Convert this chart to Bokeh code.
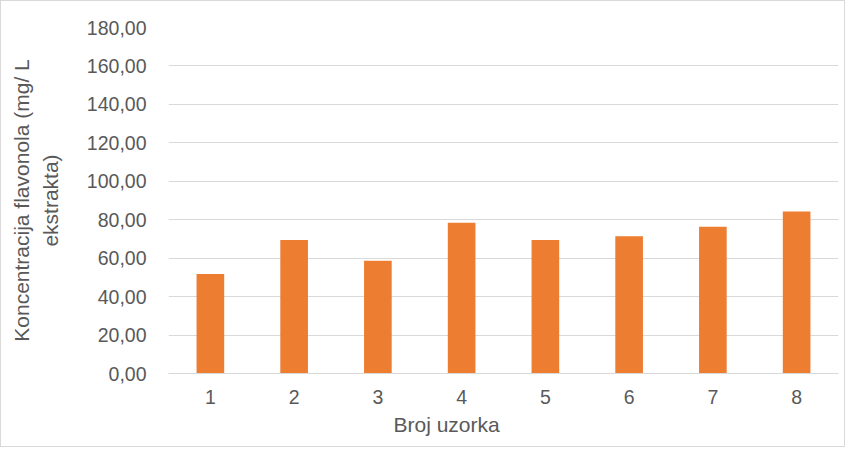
from bokeh.plotting import figure
from bokeh.embed import file_html
from bokeh.resources import INLINE
from bokeh.models import ColumnDataSource, FixedTicker, CustomJSTickFormatter, Range1d, Title

categories = ["1", "2", "3", "4", "5", "6", "7", "8"]
values = [51.7, 69.4, 58.6, 78.4, 69.4, 71.4, 76.3, 84.3]
y_ticks = [0, 20, 40, 60, 80, 100, 120, 140, 160, 180]

src = ColumnDataSource(data=dict(x=categories, y=values))

p = figure(x_range=categories, y_range=Range1d(0, 180), width=845, height=447,
           output_backend="svg", toolbar_location=None,
           min_border_left=167, min_border_right=8, min_border_top=26, min_border_bottom=75)
p.styles = {"border": "1px solid #d9d9d9", "box-sizing": "border-box"}

p.vbar(x="x", top="y", width=0.33, source=src, color="#ED7D31", line_color=None)

p.outline_line_color = None
p.background_fill_color = "white"
p.border_fill_color = "white"

p.xgrid.grid_line_color = None
p.ygrid.grid_line_color = "#d9d9d9"
p.ygrid.grid_line_width = 1

font = "Liberation Sans"
col = "#595959"

p.yaxis.ticker = FixedTicker(ticks=y_ticks)
p.yaxis.formatter = CustomJSTickFormatter(code="return tick.toFixed(2).replace('.', ',');")
p.yaxis.axis_line_color = None
p.yaxis.major_tick_line_color = None
p.yaxis.minor_tick_line_color = None
p.yaxis.major_label_text_font = font
p.yaxis.major_label_text_font_size = "19.5px"
p.yaxis.major_label_text_color = col
p.yaxis.major_label_standoff = 16
p.yaxis.axis_label = "Koncentracija flavonola (mg/ L\nekstrakta)"
p.yaxis.axis_label_text_font = font
p.yaxis.axis_label_text_font_size = "21px"
p.yaxis.axis_label_text_font_style = "normal"
p.yaxis.axis_label_text_color = col
p.yaxis.axis_label_text_line_height = 1.25
p.yaxis.axis_label_standoff = 22

p.xaxis.axis_line_color = "#d9d9d9"
p.xaxis.axis_line_width = 1
p.xaxis.major_tick_line_color = None
p.xaxis.minor_tick_line_color = None
p.xaxis.major_label_text_font = font
p.xaxis.major_label_text_font_size = "19.5px"
p.xaxis.major_label_text_color = col
p.xaxis.major_label_standoff = 10

p.add_layout(Title(text="Broj uzorka", align="left", offset=225, standoff=8,
                   text_font=font, text_font_size="21px", text_font_style="normal",
                   text_color=col), "below")

open("out.html", "w").write(file_html(p, INLINE))
